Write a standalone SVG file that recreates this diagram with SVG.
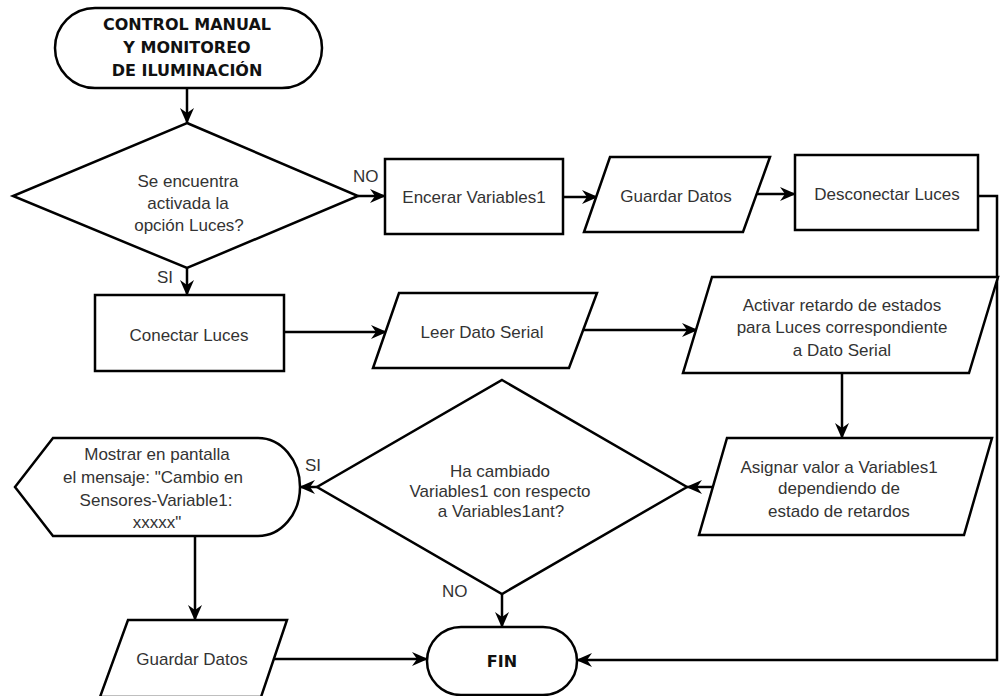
<svg xmlns="http://www.w3.org/2000/svg" width="1000" height="696" viewBox="0 0 1000 696">
<style>
.s{fill:#fff;stroke:#000;stroke-width:2.5}
.t{font-family:"Liberation Sans",Arial,sans-serif;font-size:17px;fill:#333;text-anchor:middle}
.b{font-family:"DejaVu Sans","Liberation Sans",sans-serif;font-size:16px;font-weight:bold;fill:#111;text-anchor:middle}
.l{font-family:"Liberation Sans",Arial,sans-serif;font-size:17px;fill:#333}
.c{fill:none;stroke:#000;stroke-width:2.5;marker-end:url(#ah)}
</style>
<defs>
<marker id="ah" viewBox="0 0 16 14" refX="15" refY="7" markerWidth="16" markerHeight="14" markerUnits="userSpaceOnUse" orient="auto">
<path d="M0,0 L16,7 L0,14 L5,7 Z" fill="#000"/>
</marker>
</defs>
<rect width="1000" height="696" fill="#fff"/>
<g id="connectors">
<path class="c" d="M187,88 L187,123"/>
<path class="c" d="M358,196 L385,196"/>
<path class="c" d="M563,197 L597,197"/>
<path class="c" d="M757,194 L795,194"/>
<path class="c" d="M978,196 L997,196 L997,660 L577,660"/>
<path class="c" d="M187,268 L187,295"/>
<path class="c" d="M284,332 L386,332"/>
<path class="c" d="M583,330 L697,330"/>
<path class="c" d="M842,373 L842,438"/>
<path class="c" d="M713,487 L687,487"/>
<path class="c" d="M317,487 L300,487"/>
<path class="c" d="M502,594 L502,627"/>
<path class="c" d="M195,536 L195,620"/>
<path class="c" d="M274,659 L427,659"/>
<text class="l" x="353" y="182">NO</text>
<text class="l" x="157" y="283">SI</text>
<text class="l" x="305" y="471">SI</text>
<text class="l" x="442" y="597">NO</text>
</g>
<g id="inicio">
<rect class="s" x="55" y="8" width="267" height="80" rx="40" ry="40"/>
<text class="b" x="187" y="30">CONTROL MANUAL</text>
<text class="b" x="187" y="53">Y MONITOREO</text>
<text class="b" x="187" y="76">DE ILUMINACIÓN</text>
</g>
<g id="decision1">
<polygon class="s" points="187,123 358,196 187,268 13,196"/>
<text class="t" x="188" y="187">Se encuentra</text>
<text class="t" x="188" y="209">activada la</text>
<text class="t" x="189" y="231">opción Luces?</text>
</g>
<g id="encerar">
<rect class="s" x="385" y="159" width="178" height="75"/>
<text class="t" x="474" y="203">Encerar Variables1</text>
</g>
<g id="guardar1">
<polygon class="s" points="610,157 770,157 743,232 584,232"/>
<text class="t" x="676" y="202">Guardar Datos</text>
</g>
<g id="desconectar">
<rect class="s" x="795" y="155" width="183" height="75"/>
<text class="t" x="887" y="200">Desconectar Luces</text>
</g>
<g id="conectar">
<rect class="s" x="95" y="295" width="189" height="76"/>
<text class="t" x="189" y="341">Conectar Luces</text>
</g>
<g id="leer">
<polygon class="s" points="399,293 597,293 569,368 373,368"/>
<text class="t" x="482" y="338">Leer Dato Serial</text>
</g>
<g id="activar">
<polygon class="s" points="712,277 998,277 969,373 683,373"/>
<text class="t" x="842" y="311">Activar retardo de estados</text>
<text class="t" x="842" y="333">para Luces correspondiente</text>
<text class="t" x="842" y="356">a Dato Serial</text>
</g>
<g id="asignar">
<polygon class="s" points="727,438 992,438 964,535 699,535"/>
<text class="t" x="839" y="473">Asignar valor a Variables1</text>
<text class="t" x="839" y="494">dependiendo de</text>
<text class="t" x="839" y="517">estado de retardos</text>
</g>
<g id="decision2">
<polygon class="s" points="502,380 687,487 502,594 317,487"/>
<text class="t" x="500" y="477">Ha cambiado</text>
<text class="t" x="500" y="497">Variables1 con respecto</text>
<text class="t" x="501" y="517">a Variables1ant?</text>
</g>
<g id="mostrar">
<path class="s" d="M15,487 L53,438 L258,438 A42,49 0 0 1 258,536 L53,536 Z"/>
<text class="t" x="157" y="460">Mostrar en pantalla</text>
<text class="t" x="153" y="483">el mensaje: "Cambio en</text>
<text class="t" x="156" y="506">Sensores-Variable1:</text>
<text class="t" x="157" y="528">xxxxx"</text>
</g>
<g id="guardar2">
<polygon class="s" points="128,620 287,620 261,697 100,697"/>
<text class="t" x="192" y="665">Guardar Datos</text>
</g>
<g id="fin">
<rect class="s" x="427" y="627" width="150" height="68" rx="34" ry="34"/>
<text class="b" x="502" y="667">FIN</text>
</g>
</svg>
